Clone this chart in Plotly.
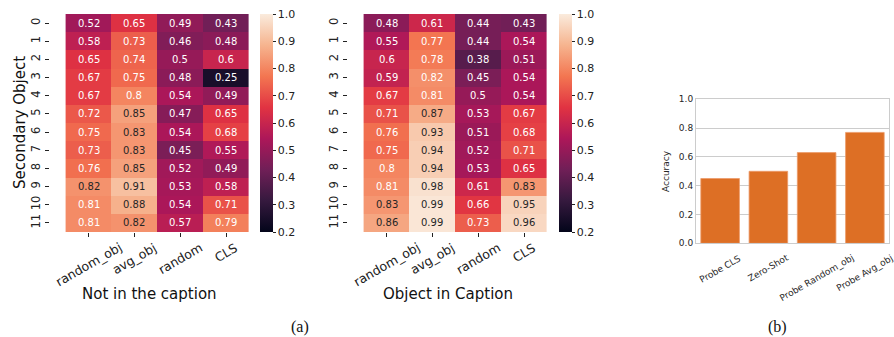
import plotly.graph_objects as go

methods = ["random_obj", "avg_obj", "random", "CLS"]
rows = [str(i) for i in range(12)]

# Not in the caption (rows 0..11, cols random_obj, avg_obj, random, CLS)
not_in_caption = [
    [0.52, 0.65, 0.49, 0.43],
    [0.58, 0.73, 0.46, 0.48],
    [0.65, 0.74, 0.50, 0.60],
    [0.67, 0.75, 0.48, 0.25],
    [0.67, 0.80, 0.54, 0.49],
    [0.72, 0.85, 0.47, 0.65],
    [0.75, 0.83, 0.54, 0.68],
    [0.73, 0.83, 0.45, 0.55],
    [0.76, 0.85, 0.52, 0.49],
    [0.823, 0.91, 0.53, 0.58],
    [0.81, 0.88, 0.54, 0.71],
    [0.81, 0.823, 0.57, 0.79],
]

in_caption = [
    [0.48, 0.61, 0.44, 0.43],
    [0.55, 0.77, 0.44, 0.54],
    [0.60, 0.78, 0.38, 0.51],
    [0.59, 0.817, 0.45, 0.54],
    [0.67, 0.81, 0.50, 0.54],
    [0.71, 0.87, 0.53, 0.67],
    [0.76, 0.93, 0.51, 0.68],
    [0.75, 0.94, 0.52, 0.71],
    [0.80, 0.94, 0.53, 0.65],
    [0.81, 0.98, 0.61, 0.83],
    [0.83, 0.99, 0.66, 0.95],
    [0.86, 0.99, 0.73, 0.96],
]

bar_labels = ["Probe CLS", "Zero-Shot", "Probe Random_obj", "Probe Avg_obj"]
bar_values = [0.45, 0.50, 0.63, 0.77]

rocket = [
    [0.0, "#03051a"],
    [1/7, "#35193e"],
    [2/7, "#701f57"],
    [3/7, "#ad1759"],
    [4/7, "#e13342"],
    [5/7, "#f37651"],
    [6/7, "#f6b48f"],
    [1.0, "#faebdd"],
]

W, H = 894, 337
def px_x(p): return p / W
def px_y(p): return 1 - p / H

fig = go.Figure()

hm_top, hm_bot = 14, 232
panels = [
    (not_in_caption, "x", "y", 50, 249, 260, "Not in the caption"),
    (in_caption, "x2", "y2", 348, 547, 559, "Object in Caption"),
]

annotations = []
for z, xa, ya, x0, x1, cbx, title in panels:
    fig.add_trace(go.Heatmap(
        z=z, x=methods, y=rows, xaxis=xa, yaxis=ya,
        colorscale=rocket, zmin=0.2, zmax=1.0,
        colorbar=dict(
            x=px_x(cbx), xanchor="left", y=px_y(hm_bot), yanchor="bottom",
            len=(hm_bot - hm_top) / H, lenmode="fraction",
            thickness=13, thicknessmode="pixels", outlinewidth=0,
            xpad=0, ypad=0,
            tickvals=[0.2, 0.3, 0.4, 0.5, 0.6, 0.7, 0.8, 0.9, 1.0],
            tickformat=".1f", ticks="outside", ticklen=3, tickcolor="#222",
            tickfont=dict(family="DejaVu Sans", size=11, color="#222"),
        ),
        hoverinfo="skip",
    ))
    for i, r in enumerate(rows):
        for j, m in enumerate(methods):
            v = z[i][j]
            txt = f"{v:.2f}".rstrip("0") if f"{v:.2f}".endswith("0") else f"{v:.2f}"
            annotations.append(dict(
                x=m, y=r, xref=xa, yref=ya, text=txt, showarrow=False,
                font=dict(family="DejaVu Sans", size=10,
                          color="#262626" if v >= 0.82 else "#ffffff"),
            ))
    # rotated, centred x tick labels (matplotlib style)
    for m in methods:
        annotations.append(dict(
            x=m, y=px_y(237), xref=xa, yref="paper", text=m, textangle=-30,
            showarrow=False, xanchor="center", yanchor="top",
            font=dict(family="DejaVu Sans", size=12.5, color="#222"),
        ))
    annotations.append(dict(
        x=px_x((x0 + x1) / 2), y=px_y(294), xref="paper", yref="paper",
        text=title, showarrow=False, xanchor="center", yanchor="middle",
        font=dict(family="DejaVu Sans", size=15, color="#111"),
    ))

fig.add_trace(go.Bar(
    x=bar_labels, y=bar_values, xaxis="x3", yaxis="y3",
    marker=dict(color="#dd6f25", line=dict(color="#ec9a6a", width=0.8)),
    width=0.8, hoverinfo="skip",
))
for b in bar_labels:
    annotations.append(dict(
        x=b, y=px_y(250), xref="x3", yref="paper", text=b, textangle=-30,
        showarrow=False, xanchor="center", yanchor="top",
        font=dict(family="DejaVu Sans", size=9, color="#262626"),
    ))

annotations.append(dict(
    x=px_x(20), y=px_y((hm_top + hm_bot) / 2), xref="paper", yref="paper",
    text="Secondary Object", textangle=-90, showarrow=False,
    xanchor="center", yanchor="middle",
    font=dict(family="DejaVu Sans", size=15, color="#111"),
))
annotations.append(dict(
    x=px_x(300), y=px_y(327), xref="paper", yref="paper", text="(a)",
    showarrow=False, xanchor="center", yanchor="middle",
    font=dict(family="Liberation Serif", size=16, color="#111"),
))
annotations.append(dict(
    x=px_x(777), y=px_y(327), xref="paper", yref="paper", text="(b)",
    showarrow=False, xanchor="center", yanchor="middle",
    font=dict(family="Liberation Serif", size=16, color="#111"),
))
annotations.append(dict(
    x=px_x(666), y=px_y(171), xref="paper", yref="paper", text="Accuracy",
    textangle=-90, showarrow=False, xanchor="center", yanchor="middle",
    font=dict(family="DejaVu Sans", size=9, color="#262626"),
))

hm_xaxis = dict(
    type="category", categoryorder="array", categoryarray=methods,
    ticks="outside", ticklen=4, tickcolor="#222", showticklabels=False,
    showgrid=False, zeroline=False, showline=False, automargin=False,
)
hm_yaxis = dict(
    type="category", categoryorder="array", categoryarray=rows,
    autorange="reversed",
    ticks="outside", ticklen=4, tickcolor="#222", tickangle=-90,
    tickfont=dict(family="DejaVu Sans", size=11.5, color="#222"),
    showgrid=False, zeroline=False, showline=False, automargin=False,
)

fig.update_layout(
    width=W, height=H, margin=dict(l=0, r=0, t=0, b=0, autoexpand=False),
    paper_bgcolor="white", plot_bgcolor="white", showlegend=False,
    xaxis=dict(hm_xaxis, domain=[px_x(50), px_x(249)], anchor="y"),
    yaxis=dict(hm_yaxis, domain=[px_y(hm_bot), px_y(hm_top)], anchor="x"),
    xaxis2=dict(hm_xaxis, domain=[px_x(348), px_x(547)], anchor="y2"),
    yaxis2=dict(hm_yaxis, domain=[px_y(hm_bot), px_y(hm_top)], anchor="x2"),
    xaxis3=dict(
        domain=[px_x(696), px_x(889)], anchor="y3",
        type="category", range=[-0.5, 3.5], showticklabels=False,
        showgrid=False, zeroline=False, showline=True, linecolor="#cccccc",
        linewidth=1, mirror=True, ticks="", automargin=False,
    ),
    yaxis3=dict(
        domain=[px_y(243.3), px_y(99.3)], anchor="x3",
        range=[0, 1.0], tickvals=[0, 0.2, 0.4, 0.6, 0.8, 1.0], tickformat=".1f",
        tickfont=dict(family="DejaVu Sans", size=9, color="#262626"),
        showgrid=True, gridcolor="#cccccc", gridwidth=1, zeroline=False,
        showline=True, linecolor="#cccccc", linewidth=1, mirror=True, ticks="",
        automargin=False,
    ),
    annotations=annotations,
)

fig.write_html("out.html")
